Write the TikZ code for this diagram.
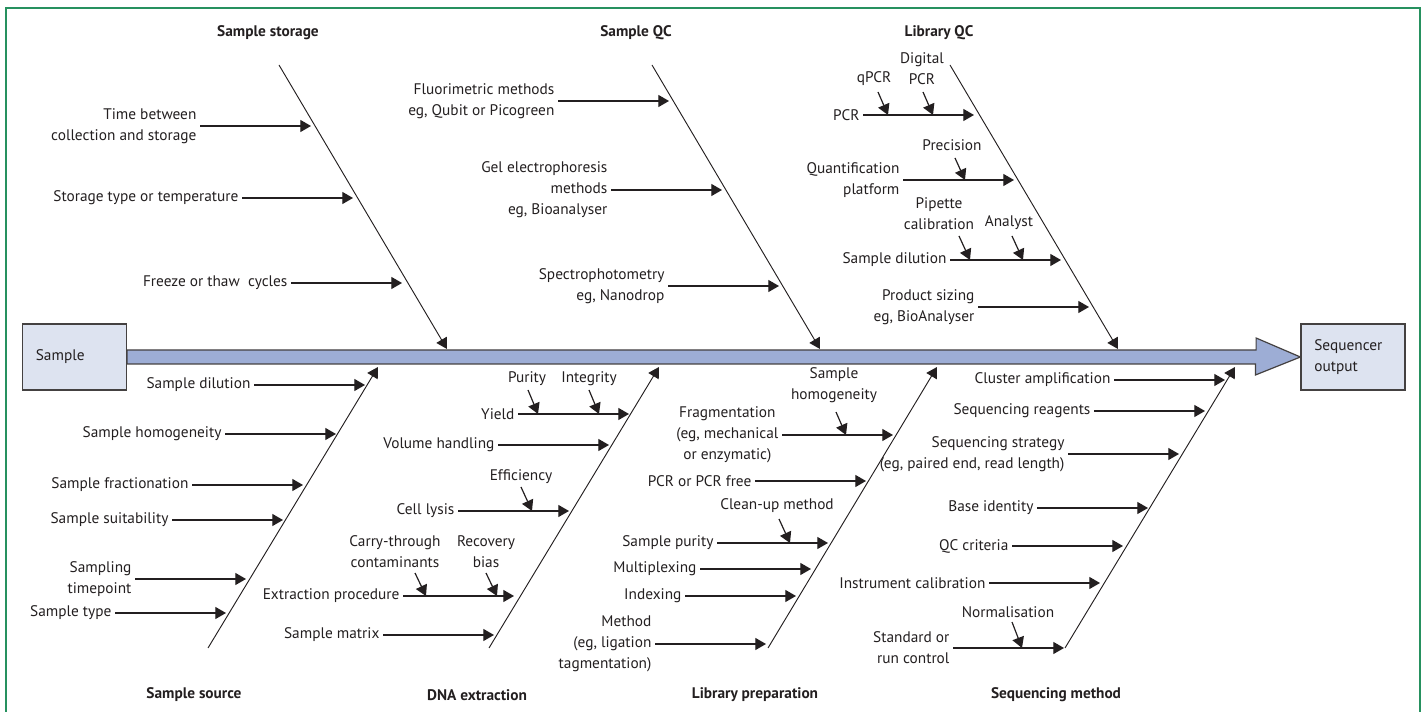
\documentclass[tikz,border=0pt]{standalone}
\usepackage{fontspec}
\setmainfont{PT Sans}
\usetikzlibrary{arrows.meta}

\definecolor{framegreen}{RGB}{38,145,95}
\definecolor{boxfill}{RGB}{221,227,240}
\definecolor{spinefill}{RGB}{157,173,213}
\definecolor{ink}{RGB}{35,31,32}

\tikzset{
  every node/.style={font=\fontsize{11.5}{15.75}\selectfont, text=ink},
  cause/.style={anchor=east, align=right, inner xsep=2.5pt, inner ysep=0pt},
  sub/.style={align=center, inner sep=0pt},
  head/.style={font=\fontsize{11.5}{15.75}\selectfont\bfseries, inner sep=0pt},
  arr/.style={draw=ink, line width=0.9pt, -{Triangle[length=8pt,width=9pt]}},
  bone/.style={draw=ink, line width=0.7pt, -{Triangle[length=8pt,width=9pt]}},
  box/.style={draw=ink!85, fill=boxfill, line width=0.9pt, minimum height=49.5pt,
    text width=58pt, inner xsep=10pt, align=left},
}

\begin{document}
\begin{tikzpicture}[x=0.75pt, y=-0.75pt]
  \useasboundingbox (0,0) rectangle (1422,712);
  \draw[framegreen, line width=1.1pt] (6,720) -- (6,8) -- (1420,8) -- (1420,720);

  % Head and tail
  \node[box] (sample) at (74.5,357) {Sample};
  \node[box] (output) at (1353,357) {Sequencer\\output};
  \draw[draw=ink!85, fill=spinefill, line width=0.9pt]
    ([yshift=5.25pt]sample.east) -- ++(1129,0) -- ++(0,-12) -- (output.west)
    -- ++(-45,18) -- ++(0,-11) -- ([yshift=-5.25pt]sample.east) -- cycle;

  % Bones
  \coordinate (ssT) at (279,65);   \coordinate (ssB) at (447,349);
  \coordinate (sqT) at (652,65);   \coordinate (sqB) at (820,349);
  \coordinate (lqT) at (950,65);   \coordinate (lqB) at (1118,349);
  \coordinate (srB) at (208,648);  \coordinate (srT) at (378,367);
  \coordinate (dxB) at (489,648);  \coordinate (dxT) at (659,367);
  \coordinate (lpB) at (768,648);  \coordinate (lpT) at (937,367);
  \coordinate (smB) at (1065,648); \coordinate (smT) at (1235,367);
  \draw[bone] (ssT) -- (ssB);
  \draw[bone] (sqT) -- (sqB);
  \draw[bone] (lqT) -- (lqB);
  \draw[bone] (srB) -- (srT);
  \draw[bone] (dxB) -- (dxT);
  \draw[bone] (lpB) -- (lpT);
  \draw[bone] (smB) -- (smT);

  % Headings
  \node[head] (h-ss) at (268,33) {Sample storage};
  \node[head] (h-sq) at (636,33) {Sample QC};
  \node[head] (h-lq) at (939,33) {Library QC};
  \node[head] (h-sr) at (194,695) {Sample source};
  \node[head] (h-dx) at (477,695) {DNA extraction};
  \node[head] (h-lp) at (755,695) {Library preparation};
  \node[head] (h-sm) at (1056,695) {Sequencing method};

  % Sample storage
  \node[cause] (ss1) at (200,126) {Time between\\collection and storage};
  \node[cause] (ss2) at (242,198) {Storage type or temperature};
  \node[cause] (ss3) at (291,283) {Freeze or thaw\ \ cycles};
  \draw[arr] (ss1.east) -- ++(111,0);
  \draw[arr] (ss2.east) -- ++(111,0);
  \draw[arr] (ss3.east) -- ++(111,0);

  % Sample QC
  \node[cause] (sq1) at (558,101) {Fluorimetric methods\\eg, Qubit or Picogreen};
  \node[cause] (sq2) at (611,190) {Gel electrophoresis\\methods\\eg, Bioanalyser};
  \node[cause] (sq3) at (668,286) {Spectrophotometry\\eg, Nanodrop};
  \draw[arr] (sq1.east) -- ++(111,0);
  \draw[arr] (sq2.east) -- ++(111,0);
  \draw[arr] (sq3.east) -- ++(111,0);

  % Library QC
  \node[cause] (lq1) at (863,115) {PCR};
  \node[cause] (lq2) at (903,180) {Quantification\\platform};
  \node[cause] (lq3) at (950,260) {Sample dilution};
  \node[cause] (lq4) at (978,307) {Product sizing\\eg, BioAnalyser};
  \draw[arr] (lq1.east) -- ++(111,0);
  \draw[arr] (lq2.east) -- ++(111,0);
  \draw[arr] (lq3.east) -- ++(111,0);
  \draw[arr] (lq4.east) -- ++(111,0);
  \node[sub] (qpcr) at (874,79) {qPCR};
  \node[sub] (dpcr) at (922,69) {Digital\\PCR};
  \node[sub] (prec) at (952,145) {Precision};
  \node[sub] (pipe) at (939,213.5) {Pipette\\calibration};
  \node[sub] (anal) at (1009,223) {Analyst};
  \draw[arr] (qpcr.center) ++(4,13) -- ++(10,23);
  \draw[arr] (dpcr.center) ++(1,23) -- ++(10,23);
  \draw[arr] (prec.center) ++(3,13) -- ++(10,22);
  \draw[arr] (pipe.center) ++(20,22.5) -- ++(11,24);
  \draw[arr] (anal.center) ++(3,13) -- ++(11,24);

  % Sample source
  \node[cause] (sr1) at (254,385) {Sample dilution};
  \node[cause] (sr2) at (225,434) {Sample homogeneity};
  \node[cause] (sr3) at (192,485) {Sample fractionation};
  \node[cause] (sr4) at (172,520) {Sample suitability};
  \node[cause] (sr5) at (135,579) {Sampling\\timepoint};
  \node[cause] (sr6) at (115,613) {Sample type};
  \draw[arr] (sr1.east) -- ++(111,0);
  \draw[arr] (sr2.east) -- ++(111,0);
  \draw[arr] (sr3.east) -- ++(111,0);
  \draw[arr] (sr4.east) -- ++(111,0);
  \draw[arr] (sr5.east) -- ++(111,0);
  \draw[arr] (sr6.east) -- ++(111,0);

  % DNA extraction
  \node[cause] (dx1) at (518,414) {Yield};
  \node[cause] (dx2) at (498,445) {Volume handling};
  \node[cause] (dx3) at (458,511) {Cell lysis};
  \node[cause] (dx4) at (403,596) {Extraction procedure};
  \node[cause] (dx5) at (383,635) {Sample matrix};
  \draw[arr] (dx1.east) -- ++(111,0);
  \draw[arr] (dx2.east) -- ++(111,0);
  \draw[arr] (dx3.east) -- ++(111,0);
  \draw[arr] (dx4.east) -- ++(111,0);
  \draw[arr] (dx5.east) -- ++(111,0);
  \node[sub] (puri) at (527,379) {Purity};
  \node[sub] (inte) at (589,379) {Integrity};
  \node[sub] (effi) at (521,477) {Efficiency};
  \node[sub] (carr) at (395,552) {Carry-through\\contaminants};
  \node[sub] (reco) at (486,552) {Recovery\\bias};
  \draw[arr] (puri.center) ++(1,11) -- ++(10,24);
  \draw[arr] (inte.center) ++(0,11) -- ++(10,24);
  \draw[arr] (effi.center) ++(0,10) -- ++(11,24);
  \draw[arr] (carr.center) ++(20,21) -- ++(11,23);
  \draw[arr] (reco.center) ++(0,21) -- ++(11,23);

  % Library preparation
  \node[cause, align=center] (lp1) at (782,435) {Fragmentation\\(eg, mechanical\\or enzymatic)};
  \node[cause] (lp2) at (755,481) {PCR or PCR free};
  \node[cause] (lp3) at (717,543) {Sample purity};
  \node[cause] (lp4) at (700,569) {Multiplexing};
  \node[cause] (lp5) at (685,596) {Indexing};
  \node[cause] (lp6) at (655,644) {Method\\(eg, ligation\\tagmentation)};
  \draw[arr] (lp1.east) -- ++(111,0);
  \draw[arr] (lp2.east) -- ++(111,0);
  \draw[arr] (lp3.east) -- ++(111,0);
  \draw[arr] (lp4.east) -- ++(111,0);
  \draw[arr] (lp5.east) -- ++(111,0);
  \draw[arr] (lp6.east) -- ++(111,0);
  \node[sub] (homo) at (834,385.5) {Sample\\homogeneity};
  \node[sub] (clea) at (777,506) {Clean-up method};
  \draw[arr] (homo.center) ++(2,26.5) -- ++(10,23);
  \draw[arr] (clea.center) ++(2,13) -- ++(11,24);

  % Sequencing method
  \node[cause] (sm1) at (1114,380) {Cluster amplification};
  \node[cause] (sm2) at (1094,411) {Sequencing reagents};
  \node[cause] (sm3) at (1068,454) {Sequencing strategy\\(eg, paired end, read length)};
  \node[cause] (sm4) at (1037,508) {Base identity};
  \node[cause] (sm5) at (1012,546) {QC criteria};
  \node[cause] (sm6) at (989,583) {Instrument calibration};
  \node[cause] (sm7) at (953,648) {Standard or\\run control};
  \draw[arr] (sm1.east) -- ++(111,0);
  \draw[arr] (sm2.east) -- ++(111,0);
  \draw[arr] (sm3.east) -- ++(111,0);
  \draw[arr] (sm4.east) -- ++(111,0);
  \draw[arr] (sm5.east) -- ++(111,0);
  \draw[arr] (sm6.east) -- ++(111,0);
  \draw[arr] (sm7.east) -- ++(111,0);
  \node[sub] (norm) at (1008,612) {Normalisation};
  \draw[arr] (norm.center) ++(4,10) -- ++(10,26);
\end{tikzpicture}
\end{document}
